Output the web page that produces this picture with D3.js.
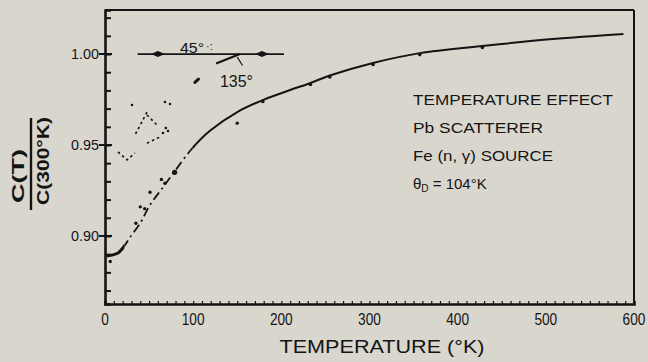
<!DOCTYPE html>
<html>
<head>
<meta charset="utf-8">
<script src="https://cdn.jsdelivr.net/npm/d3@7"></script>
<style>
  html, body { margin: 0; padding: 0; background: #d9d6ce; }
  svg { display: block; }
  text { font-family: "Liberation Sans", Arial, sans-serif; fill: #141414; }
</style>
</head>
<body>
<svg id="chart" width="648" height="362"></svg>
<script>
// Debye-type fit of the normalised count rate C(T)/C(300 K)
const fitT = [2, 9, 15, 22, 28, 40, 51, 66, 79, 99, 119, 150, 179, 210, 233, 255, 304, 357, 428, 508, 588];
const fitC = [0.889, 0.8896, 0.8907, 0.8945, 0.899, 0.9071, 0.917, 0.9269, 0.9355, 0.9482, 0.9578,
              0.9681, 0.9747, 0.9802, 0.9841, 0.9882, 0.9951, 1.0005, 1.0044, 1.0082, 1.011];
// the fit is drawn heavy below hookEnd, dash-dotted up to dashEnd, solid beyond
const hookEnd = 22;
const dashEnd = 99;

// measured points
const pointT = [6, 35, 40, 45, 51, 64, 68, 79, 150];
const pointC = [0.886, 0.907, 0.916, 0.915, 0.924, 0.931, 0.929, 0.935, 0.962];
// points sitting on the fitted curve
const onCurveT = [179, 233, 255, 304, 357, 428];

// faint dotted trace near 0.95 (45° / 135° runs)
const traceSegs = [
  [[47.6, 0.968], [34, 0.9555]],
  [[47.6, 0.9665], [59, 0.961]],
  [[47.6, 0.951], [62.4, 0.9544]],
  [[14.7, 0.9462], [25, 0.9418], [34, 0.9456]]
];
const traceDotT = [30.6, 65.8, 71.5, 69, 68, 73.7];
const traceDotC = [0.972, 0.9566, 0.9577, 0.9593, 0.9736, 0.9725];

// axes
const xTicks = [0, 100, 200, 300, 400, 500, 600];
const xTickLabels = ["0", "100", "200", "300", "400", "500", "600"];
const yTicks = [0.90, 0.95, 1.00];
const yTickLabels = ["0.90", "0.95", "1.00"];
const legendLines = ["TEMPERATURE EFFECT", "Pb SCATTERER", "Fe (n, γ) SOURCE"];

const svg = d3.select("#chart");
const x = d3.scaleLinear().domain([0, 600]).range([105, 634]);
const y = d3.scaleLinear().domain([0.8626, 1.0242]).range([304, 10]);
const ink = "#141414";

// frame
svg.append("line").attr("x1", x(0)).attr("x2", x(600)).attr("y1", y(1.0242)).attr("y2", y(1.0242))
  .attr("stroke", ink).attr("stroke-width", 2);
svg.append("line").attr("x1", x(600)).attr("x2", x(600)).attr("y1", y(1.0242)).attr("y2", y(0.8626))
  .attr("stroke", ink).attr("stroke-width", 2);

// y axis with inward minor ticks
const yAxis = d3.axisRight(y).tickValues(d3.range(0.87, 1.0201, 0.01)).tickSize(6).tickFormat("");
const gy = svg.append("g").attr("transform", `translate(${x(0)},0)`).call(yAxis);
gy.select(".domain").attr("stroke", ink).attr("stroke-width", 2.6);
gy.selectAll(".tick line").attr("stroke", ink).attr("stroke-width", 2);
// major ticks crossing the axis
svg.selectAll(".ymaj").data(yTicks).join("line")
  .attr("x1", x(0) - 6).attr("x2", x(0) + 7)
  .attr("y1", d => y(d)).attr("y2", d => y(d))
  .attr("stroke", ink).attr("stroke-width", 2);
svg.selectAll(".ylab").data(yTicks).join("text")
  .attr("x", x(0) - 6).attr("y", d => y(d) + 5)
  .attr("text-anchor", "end").attr("font-size", 14)
  .attr("textLength", 28).attr("lengthAdjust", "spacingAndGlyphs")
  .text((d, i) => yTickLabels[i]);

// x axis with small inward ticks
const xAxis = d3.axisTop(x).tickValues(d3.range(10, 600, 10)).tickSize(3).tickFormat("");
const gx = svg.append("g").attr("transform", `translate(0,${y(0.8626)})`).call(xAxis);
gx.select(".domain").attr("stroke", ink).attr("stroke-width", 2.6);
gx.selectAll(".tick line").attr("stroke", ink).attr("stroke-width", 1.2);
svg.selectAll(".xlab").data(xTicks).join("text")
  .attr("x", d => x(d)).attr("y", 325)
  .attr("text-anchor", "middle").attr("font-size", 16)
  .attr("textLength", (d, i) => xTickLabels[i].length * 7.6).attr("lengthAdjust", "spacingAndGlyphs")
  .text((d, i) => xTickLabels[i]);

// axis titles
svg.append("text").attr("x", 382).attr("y", 353).attr("text-anchor", "middle")
  .attr("font-size", 19).attr("textLength", 205).attr("lengthAdjust", "spacingAndGlyphs")
  .text("TEMPERATURE (°K)");
svg.append("text").attr("transform", "translate(24,176) rotate(-90)").attr("text-anchor", "middle")
  .attr("font-size", 17).attr("font-weight", "bold").attr("textLength", 54).attr("lengthAdjust", "spacingAndGlyphs")
  .text("C(T)");
svg.append("line").attr("x1", 31).attr("x2", 31).attr("y1", 118).attr("y2", 210)
  .attr("stroke", ink).attr("stroke-width", 2.4);
svg.append("text").attr("transform", "translate(49,161) rotate(-90)").attr("text-anchor", "middle")
  .attr("font-size", 17).attr("font-weight", "bold").attr("textLength", 88).attr("lengthAdjust", "spacingAndGlyphs")
  .text("C(300°K)");

// fitted curve: one smooth path, styled by temperature band through clip regions
const defs = svg.append("defs");
const bands = [
  { id: "band-hook", from: 0, to: hookEnd, width: 3, dash: null },
  { id: "band-dash", from: hookEnd, to: dashEnd, width: 1.8, dash: "9,4,2,4" },
  { id: "band-solid", from: dashEnd, to: 600, width: 2, dash: null }
];
bands.forEach(b => {
  defs.append("clipPath").attr("id", b.id).append("rect")
    .attr("x", x(b.from)).attr("width", x(b.to) - x(b.from)).attr("y", 0).attr("height", 362);
});
const line = d3.line().x(d => x(d[0])).y(d => y(d[1])).curve(d3.curveCatmullRom.alpha(0.5));
const fitData = d3.zip(fitT, fitC);
bands.forEach(b => {
  svg.append("path").datum(fitData).attr("d", line).attr("clip-path", `url(#${b.id})`)
    .attr("fill", "none").attr("stroke", ink).attr("stroke-width", b.width)
    .attr("stroke-dasharray", b.dash);
});

// points on the curve, found by interpolating the fit
const cAt = t => {
  const i = d3.bisector(d => d[0]).right(fitData, t);
  const a = fitData[i - 1], b = fitData[i];
  return a[1] + (b[1] - a[1]) * (t - a[0]) / (b[0] - a[0]);
};
svg.selectAll(".oncurve").data(onCurveT).join("circle")
  .attr("cx", d => x(d)).attr("cy", d => y(cAt(d)) + 1.5).attr("r", 1.8).attr("fill", ink);

// measured points
svg.selectAll(".pt").data(d3.zip(pointT, pointC)).join("circle")
  .attr("cx", d => x(d[0])).attr("cy", d => y(d[1]))
  .attr("r", (d, i) => i === 7 ? 2.6 : 1.7).attr("fill", ink);

// dotted trace
const straight = d3.line().x(d => x(d[0])).y(d => y(d[1]));
svg.selectAll(".trace").data(traceSegs).join("path")
  .attr("d", straight).attr("fill", "none").attr("stroke", ink)
  .attr("stroke-width", 1.6).attr("stroke-dasharray", "2.5,3");
svg.selectAll(".tdot").data(d3.zip(traceDotT, traceDotC)).join("circle")
  .attr("cx", d => x(d[0])).attr("cy", d => y(d[1])).attr("r", 1.3).attr("fill", ink);

// scattering-angle sketch: beam line with arrowheads
const beam = [[37, 1.0], [203, 1.0]];
svg.append("path").datum(beam).attr("d", straight).attr("stroke", ink).attr("stroke-width", 1.8);
[60, 178].forEach(t => {
  const cx = x(t), cy = y(1.0);
  svg.append("path").attr("d", `M${cx - 7},${cy} L${cx},${cy - 3} L${cx + 7},${cy} L${cx},${cy + 3} Z`).attr("fill", ink);
});
svg.append("text").attr("x", 180).attr("y", 53).attr("font-size", 15)
  .attr("textLength", 24).attr("lengthAdjust", "spacingAndGlyphs").text("45°");
svg.append("text").attr("x", 206).attr("y", 50).attr("font-size", 11).text("·:");
svg.append("path").attr("d", `M${x(126)},${y(0.9948)} Q${x(140)},${y(0.9975)} ${x(153)},${y(1.0)}`)
  .attr("fill", "none").attr("stroke", ink).attr("stroke-width", 2.2);
svg.append("path").attr("d", `M${x(150)},${y(0.9983)} L${x(156)},${y(0.9937)}`)
  .attr("stroke", ink).attr("stroke-width", 1.2);
svg.append("text").attr("x", 220).attr("y", 87).attr("font-size", 16)
  .attr("textLength", 33).attr("lengthAdjust", "spacingAndGlyphs").text("135°");
svg.append("path").attr("d", `M${x(102)},${y(0.9844)} L${x(106)},${y(0.9862)}`)
  .attr("stroke", ink).attr("stroke-width", 3).attr("stroke-linecap", "round");

// legend block
svg.selectAll(".legend").data(legendLines).join("text")
  .attr("x", 413).attr("y", (d, i) => 105 + i * 28).attr("font-size", 15)
  .attr("textLength", (d, i) => [200, 130, 140][i]).attr("lengthAdjust", "spacingAndGlyphs")
  .text(d => d);
const theta = svg.append("text").attr("x", 413).attr("y", 189).attr("font-size", 15);
theta.append("tspan").text("θ");
theta.append("tspan").attr("font-size", 10).attr("dy", 3).text("D");
theta.append("tspan").attr("dy", -3).text("  = 104°K");
</script>
</body>
</html>
